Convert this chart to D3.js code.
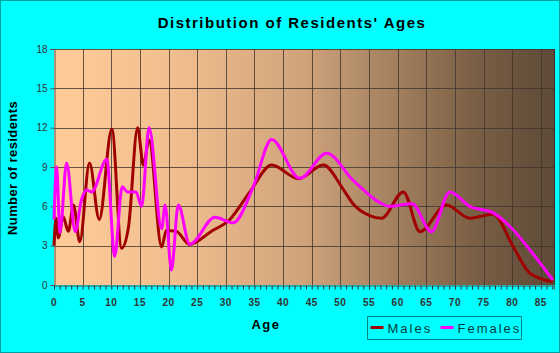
<!DOCTYPE html>
<meta charset="utf-8">
<title>Distribution of Residents' Ages</title>
<script src="https://d3js.org/d3.v7.min.js"></script>
<style>
  body { margin: 0; background: #00ffff; }
  text { font-family: "Liberation Sans", Arial, sans-serif; }
</style>
<div id="chart"></div>
<script>
// values (age, number of residents)
var maleAges   = [0, 0.35, 0.75, 1.6, 2.5, 3.4, 4.5, 6.2, 7.9, 10.1, 11.8, 13.0, 14.6, 15.6, 16.6, 18.8, 19.6, 21.3, 23.7, 27.5, 30.7, 34.2, 38, 42.7, 47, 50.5, 52.2, 55.1, 57.2, 61, 63.9, 68.5, 72.6, 76.7, 80.2, 83.1, 87.1];
var maleValues = [3.0, 5.1, 3.6, 5.2, 4.1, 6.1, 3.3, 9.3, 5.0, 11.9, 2.8, 4.4, 12.0, 9.15, 11.05, 2.9, 4.15, 4.1, 3.1, 4.1, 5.0, 7.1, 9.15, 8.1, 9.15, 7.3, 6.2, 5.3, 5.1, 7.1, 4.07, 6.1, 5.1, 5.4, 2.9, 0.9, 0.25];

var femaleAges   = [0, 0.45, 1.05, 2.2, 3.7, 4.8, 5.7, 6.6, 9.2, 10.6, 11.9, 12.8, 14.3, 15.3, 16.6, 18.8, 19.4, 20.5, 21.7, 23.7, 28.1, 31.3, 34.8, 38, 42.9, 47.6, 52.2, 56.9, 58.6, 62.5, 65.9, 69.1, 72.6, 76.7, 80.2, 83.1, 87.1];
var femaleValues = [5.0, 9.0, 4.0, 9.3, 4.07, 6.5, 7.25, 7.1, 9.6, 2.2, 7.5, 7.1, 7.1, 6.0, 12.0, 4.3, 6.1, 1.15, 6.1, 3.1, 5.16, 4.75, 7.5, 11.1, 8.14, 10.05, 8.0, 6.28, 6.0, 6.2, 4.07, 7.1, 6.0, 5.5, 4.2, 2.67, 0.38];

var xTicks = [0, 5, 10, 15, 20, 25, 30, 35, 40, 45, 50, 55, 60, 65, 70, 75, 80, 85];
var yTicks = [0, 3, 6, 9, 12, 15, 18];

var width = 560, height = 353;
var margin = {top: 49, right: 6, bottom: 68, left: 54};

var svg = d3.select("#chart")
  .append("svg")
    .attr("width", width)
    .attr("height", height);

// outer frame
svg.append("rect")
  .attr("x", 0.5).attr("y", 0.5)
  .attr("width", width - 1).attr("height", height - 1)
  .style("fill", "#00ffff")
  .style("stroke", "#00a0a0");

var x = d3.scaleLinear()
  .domain([0, 87.3])
  .range([margin.left, width - margin.right]);

var y = d3.scaleLinear()
  .domain([0, 18])
  .range([height - margin.bottom, margin.top]);

// plot background gradient
var grad = svg.append("defs").append("linearGradient")
  .attr("id", "bg")
  .attr("x1", "0%").attr("x2", "100%")
  .attr("y1", "0%").attr("y2", "0%");
grad.append("stop").attr("offset", "0%").attr("stop-color", "#ffcc99");
grad.append("stop").attr("offset", "25%").attr("stop-color", "#f0bd8e");
grad.append("stop").attr("offset", "50%").attr("stop-color", "#cfa37b");
grad.append("stop").attr("offset", "68%").attr("stop-color", "#a3805f");
grad.append("stop").attr("offset", "84%").attr("stop-color", "#7a5f45");
grad.append("stop").attr("offset", "100%").attr("stop-color", "#5e4a38");

svg.append("rect")
  .attr("x", x(0)).attr("y", y(18))
  .attr("width", x.range()[1] - x(0))
  .attr("height", y(0) - y(18))
  .style("fill", "url(#bg)");

// grid
svg.append("g")
  .selectAll("line")
  .data(xTicks.slice(1))
  .enter().append("line")
    .attr("x1", function(d) { return Math.round(x(d)) + 0.5; })
    .attr("x2", function(d) { return Math.round(x(d)) + 0.5; })
    .attr("y1", y(18)).attr("y2", y(0))
    .style("stroke", "#40362e").style("stroke-opacity", 0.8);

svg.append("g")
  .selectAll("line")
  .data(yTicks.slice(1))
  .enter().append("line")
    .attr("x1", x(0)).attr("x2", x.range()[1])
    .attr("y1", function(d) { return Math.round(y(d)) + 0.5; })
    .attr("y2", function(d) { return Math.round(y(d)) + 0.5; })
    .style("stroke", "#40362e").style("stroke-opacity", 0.8);

// right border
svg.append("line")
  .attr("x1", x.range()[1] + 0.5).attr("x2", x.range()[1] + 0.5)
  .attr("y1", y(18)).attr("y2", y(0))
  .style("stroke", "#3a3028");

// y axis
var yAxis = svg.append("g")
  .attr("transform", "translate(" + (x(0) + 0.5) + ",0)")
  .call(d3.axisLeft(y).tickValues(yTicks).tickSize(4).tickPadding(3));
yAxis.select(".domain").style("stroke", "#555");
yAxis.selectAll(".tick line").style("stroke", "#555");
yAxis.selectAll("text")
  .style("font-size", "10px")
  .style("fill", "#333");

// x axis with minor ticks every year
var xAxis = svg.append("g")
  .attr("transform", "translate(0," + (y(0) + 0.5) + ")")
  .call(d3.axisBottom(x).tickValues(d3.range(0, 88)).tickSize(4).tickFormat(""));
xAxis.select(".domain").style("stroke", "#555");
xAxis.selectAll(".tick line").style("stroke", "#333");

svg.append("g")
  .selectAll("text")
  .data(xTicks)
  .enter().append("text")
    .attr("x", function(d) { return x(d); })
    .attr("y", y(0) + 21)
    .attr("text-anchor", "middle")
    .style("font-size", "10px")
    .style("font-weight", "bold")
    .style("letter-spacing", "0.5px")
    .style("fill", "#333")
    .text(function(d) { return d; });

// lines
var line = d3.line()
  .x(function(d) { return x(d[0]); })
  .y(function(d) { return y(d[1]); })
  .curve(d3.curveMonotoneX);

var males = maleAges.map(function(a, i) { return [a, maleValues[i]]; });
var females = femaleAges.map(function(a, i) { return [a, femaleValues[i]]; });

svg.append("path")
  .datum(males)
  .attr("d", line)
  .style("fill", "none")
  .style("stroke", "#a00000")
  .style("stroke-width", 3);

svg.append("path")
  .datum(females)
  .attr("d", line)
  .style("fill", "none")
  .style("stroke", "#ff00ff")
  .style("stroke-width", 3);

// titles
svg.append("text")
  .attr("x", 292).attr("y", 28)
  .attr("text-anchor", "middle")
  .style("font-size", "15px")
  .style("font-weight", "bold")
  .style("letter-spacing", "1.5px")
  .text("Distribution of Residents' Ages");

svg.append("text")
  .attr("x", 266).attr("y", 329)
  .attr("text-anchor", "middle")
  .style("font-size", "13px")
  .style("font-weight", "bold")
  .style("letter-spacing", "1.5px")
  .text("Age");

svg.append("text")
  .attr("transform", "translate(17,168) rotate(-90)")
  .attr("text-anchor", "middle")
  .style("font-size", "13px")
  .style("font-weight", "bold")
  .style("letter-spacing", "0.4px")
  .text("Number of residents");

// legend
var legend = svg.append("g").attr("transform", "translate(367.5,316.5)");
legend.append("rect")
  .attr("width", 154).attr("height", 23)
  .style("fill", "none")
  .style("stroke", "#008888");

var items = [
  {name: "Males", color: "#a00000", x: 3},
  {name: "Females", color: "#ff00ff", x: 73}
];
items.forEach(function(it) {
  legend.append("line")
    .attr("x1", it.x).attr("x2", it.x + 13)
    .attr("y1", 11).attr("y2", 11)
    .style("stroke", it.color)
    .style("stroke-width", 3);
  legend.append("text")
    .attr("x", it.x + 17).attr("y", 16)
    .style("font-size", "13px")
    .style("letter-spacing", "2px")
    .style("fill", "#0a3a3a")
    .text(it.name);
});
</script>
